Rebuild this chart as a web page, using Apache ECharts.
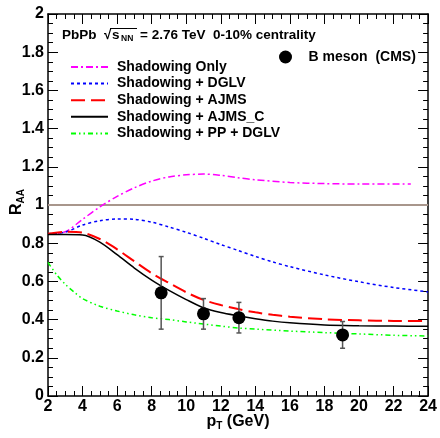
<!DOCTYPE html>
<html>
<head>
<meta charset="utf-8">
<script src="https://cdn.jsdelivr.net/npm/echarts@6/dist/echarts.min.js"></script>
<style>
  html, body { margin: 0; padding: 0; background: #fff; }
  #chart { width: 440px; height: 438px; }
</style>
</head>
<body>
<div id="chart"></div>
<script>
// pT grid for the model curves
var ptShadow = [2, 3, 4, 5, 6, 7, 8, 9, 10, 11, 12, 13, 14, 16, 18, 20, 23];
var raaShadow = [0.85, 0.86, 0.925, 0.99, 1.045, 1.09, 1.125, 1.147, 1.158, 1.162, 1.155, 1.143, 1.132, 1.118, 1.112, 1.11, 1.11];

var ptModel = [2, 3, 4, 5, 6, 7, 8, 9, 10, 11, 12, 13, 14, 15, 16, 18, 20, 22, 24];
var raaDGLV = [0.85, 0.858, 0.895, 0.918, 0.927, 0.925, 0.91, 0.885, 0.857, 0.826, 0.793, 0.762, 0.731, 0.702, 0.677, 0.634, 0.598, 0.568, 0.545];
var raaAJMS = [0.85, 0.86, 0.855, 0.822, 0.768, 0.705, 0.643, 0.592, 0.543, 0.503, 0.476, 0.455, 0.438, 0.425, 0.415, 0.402, 0.396, 0.393, 0.392];
var raaAJMSC = [0.845, 0.845, 0.843, 0.806, 0.74, 0.67, 0.607, 0.553, 0.505, 0.462, 0.437, 0.42, 0.405, 0.392, 0.383, 0.372, 0.368, 0.366, 0.365];

var ptPP = [2, 2.5, 3, 3.5, 4, 5, 6, 7, 8, 9, 10, 12, 13, 14, 16, 18, 20, 22, 24];
var raaPP = [0.70, 0.635, 0.585, 0.545, 0.51, 0.47, 0.445, 0.425, 0.41, 0.4, 0.388, 0.366, 0.356, 0.35, 0.34, 0.332, 0.325, 0.318, 0.314];

// CMS B meson points
var bPt = [8.55, 11, 13.05, 19.05];
var bRaa = [0.54, 0.43, 0.41, 0.32];
var bLow = [0.35, 0.35, 0.33, 0.25];
var bHigh = [0.73, 0.51, 0.49, 0.39];

var unityLine = [[2, 1], [24, 1]];

function pairs(xs, ys) {
  return xs.map(function (x, i) { return [x, ys[i]]; });
}

var font = 'Liberation Sans';
var chart = echarts.init(document.getElementById('chart'));

function curve(name, xs, ys, color, type, width) {
  return {
    name: name,
    type: 'line',
    data: pairs(xs, ys),
    symbol: 'none',
    smooth: 0.3,
    lineStyle: { color: color, type: type, width: width },
    itemStyle: { color: color },
    z: 3
  };
}

function txt(x, y, s, size) {
  return {
    type: 'text', x: x, y: y,
    style: { text: s, fontFamily: font, fontWeight: 'bold', fontSize: size, fill: '#000', verticalAlign: 'middle' }
  };
}

var axisCommon = {
  type: 'value',
  axisLine: { show: true, onZero: false, lineStyle: { color: '#000', width: 1.5 } },
  axisTick: { show: true, inside: true, length: 10, lineStyle: { color: '#000', width: 1 } },
  minorTick: { show: true, splitNumber: 4, length: 5, lineStyle: { color: '#000', width: 1 } },
  splitLine: { show: false }
};

chart.setOption({
  animation: false,
  grid: { left: 48, right: 10, top: 14, bottom: 42 },
  xAxis: [
    Object.assign({}, axisCommon, {
      min: 2, max: 24, interval: 2, position: 'bottom',
      axisLabel: { margin: 3, color: '#000', fontFamily: font, fontWeight: 'bold', fontSize: 16 }
    }),
    Object.assign({}, axisCommon, {
      min: 2, max: 24, interval: 2, position: 'top',
      axisLabel: { show: false }
    })
  ],
  yAxis: [
    Object.assign({}, axisCommon, {
      min: 0, max: 2, interval: 0.2, position: 'left',
      axisLabel: { margin: 4, color: '#000', fontFamily: font, fontWeight: 'bold', fontSize: 16 }
    }),
    Object.assign({}, axisCommon, {
      min: 0, max: 2, interval: 0.2, position: 'right',
      axisLabel: { show: false }
    })
  ],
  legend: [
    {
      orient: 'vertical',
      left: 70,
      top: 60,
      padding: 0,
      itemWidth: 37,
      itemHeight: 14,
      itemGap: 2.6,
      itemStyle: { opacity: 0 },
      textStyle: { fontFamily: font, fontWeight: 'bold', fontSize: 14, color: '#000', padding: [0, 0, 0, 4] },
      data: ['Shadowing Only', 'Shadowing + DGLV', 'Shadowing + AJMS', 'Shadowing + AJMS_C', 'Shadowing + PP + DGLV']
    },
    {
      left: 279,
      top: 50,
      padding: 0,
      itemWidth: 24,
      itemHeight: 13,
      icon: 'circle',
      textStyle: { fontFamily: font, fontWeight: 'bold', fontSize: 14, color: '#000', padding: [0, 0, 0, 6] },
      data: ['B meson  (CMS)']
    }
  ],
  graphic: [
    txt(62, 35, 'PbPb', 13.5),
    txt(104, 35, '\u221A', 13.5),
    txt(112, 35, 's', 13.5),
    txt(121, 39, 'NN', 8.5),
    txt(140, 35, '= 2.76 TeV  0-10% centrality', 13.5),
    {
      type: 'line',
      shape: { x1: 110, y1: 28.5, x2: 137, y2: 28.5 },
      style: { stroke: '#000', lineWidth: 1 }
    },
    {
      type: 'text',
      x: 17,
      y: 202,
      rotation: Math.PI / 2,
      style: {
        text: '{r|R}{s|AA}',
        align: 'center',
        verticalAlign: 'middle',
        rich: {
          r: { fontFamily: font, fontWeight: 'bold', fontSize: 16, fill: '#000' },
          s: { fontFamily: font, fontWeight: 'bold', fontSize: 10, fill: '#000', padding: [8, 0, 0, 0] }
        }
      }
    },
    {
      type: 'text',
      x: 238,
      y: 422,
      style: {
        text: '{r|p}{s|T}{r| (GeV)}',
        align: 'center',
        verticalAlign: 'middle',
        rich: {
          r: { fontFamily: font, fontWeight: 'bold', fontSize: 16, fill: '#000' },
          s: { fontFamily: font, fontWeight: 'bold', fontSize: 10, fill: '#000', padding: [8, 0, 0, 0] }
        }
      }
    }
  ],
  series: [
    {
      name: 'unity',
      type: 'line',
      data: unityLine,
      symbol: 'none',
      lineStyle: { color: '#a8968c', width: 2 },
      z: 2,
      silent: true
    },
    curve('Shadowing Only', ptShadow, raaShadow, '#ff00ff', [7, 3, 2, 3], 1.5),
    curve('Shadowing + DGLV', ptModel, raaDGLV, '#0000ff', [3, 3], 1.5),
    curve('Shadowing + AJMS', ptModel, raaAJMS, '#ff0000', [14, 6], 2),
    curve('Shadowing + AJMS_C', ptModel, raaAJMSC, '#000000', 'solid', 1.5),
    curve('Shadowing + PP + DGLV', ptPP, raaPP, '#00ff00', [5, 3, 1.5, 3, 1.5, 3], 1.5),
    {
      name: 'errors',
      type: 'custom',
      data: bPt.map(function (x, i) { return [x, bLow[i], bHigh[i]]; }),
      renderItem: function (params, api) {
        var lo = api.coord([api.value(0), api.value(1)]);
        var hi = api.coord([api.value(0), api.value(2)]);
        var cap = 2.5;
        var st = { stroke: '#555', lineWidth: 1.5 };
        return {
          type: 'group',
          children: [
            { type: 'line', shape: { x1: lo[0], y1: lo[1], x2: hi[0], y2: hi[1] }, style: st },
            { type: 'line', shape: { x1: lo[0] - cap, y1: lo[1], x2: lo[0] + cap, y2: lo[1] }, style: st },
            { type: 'line', shape: { x1: hi[0] - cap, y1: hi[1], x2: hi[0] + cap, y2: hi[1] }, style: st }
          ]
        };
      },
      z: 4
    },
    {
      name: 'B meson  (CMS)',
      type: 'scatter',
      data: pairs(bPt, bRaa),
      symbol: 'circle',
      symbolSize: 13,
      itemStyle: { color: '#000', opacity: 1 },
      z: 5
    }
  ]
});
</script>
</body>
</html>
